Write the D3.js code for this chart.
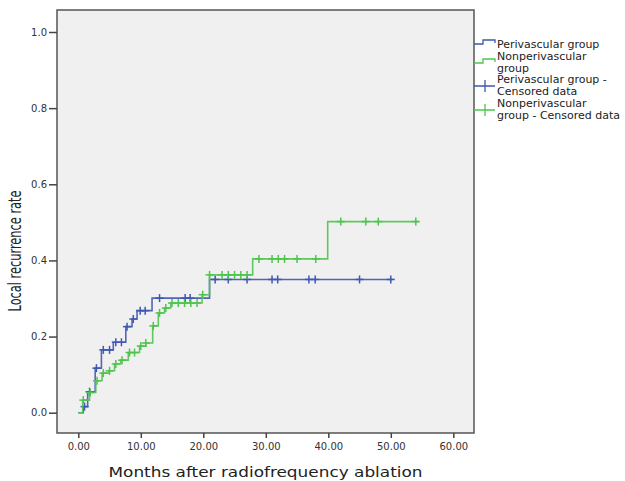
<!DOCTYPE html>
<html>
<head>
<meta charset="utf-8">
<script src="https://cdn.jsdelivr.net/npm/d3@7"></script>
<style>
  body { margin: 0; background: #fff; }
  text { font-family: "DejaVu Sans", Verdana, sans-serif; }
</style>
</head>
<body>
<div id="chart"></div>
<script>
// step points: time (months) and cumulative recurrence rate after that time
var periTime = [0, 0.8, 1.5, 2.7, 3.7, 5.6, 7.6, 8.6, 9.4, 11.8, 21.0, 50.3];
var periRate = [0, 0.016, 0.055, 0.117, 0.165, 0.185, 0.226, 0.246, 0.268, 0.301, 0.35, 0.35];
var periCensor = [1.0, 1.8, 2.9, 4.0, 5.0, 6.0, 6.9, 7.8, 8.8, 9.9, 10.7, 13.0, 17.1, 17.9,
  21.9, 24.0, 27.0, 31.0, 31.9, 36.9, 37.9, 45.0, 50.0];

var nonTime = [0, 0.7, 1.8, 2.8, 3.8, 4.9, 5.8, 6.8, 8.0, 9.8, 10.8, 11.9, 12.8, 13.8, 14.8, 19.8, 21.0, 27.9, 39.9, 54.4];
var nonRate = [0, 0.033, 0.053, 0.084, 0.104, 0.11, 0.128, 0.138, 0.158, 0.175, 0.183, 0.228, 0.262, 0.275, 0.288, 0.31, 0.362, 0.404, 0.502, 0.502];
var nonCensor = [0.8, 1.9, 3.0, 4.0, 5.0, 6.0, 7.0, 8.2, 9.0, 10.0, 10.8, 12.0, 13.0, 14.0, 15.0, 16.0, 17.0,
  18.0, 19.0, 19.9, 21.0, 23.0, 24.0, 25.0, 26.0, 27.0, 28.9, 31.0, 32.0, 33.0, 35.0, 38.0, 42.0, 46.0, 48.0, 54.0];

var xTicks = [0, 10, 20, 30, 40, 50, 60];
var yTicks = [0, 0.2, 0.4, 0.6, 0.8, 1.0];

var blue = "#3f57b2", green = "#4fc34f";

var svg = d3.select("#chart").append("svg")
  .attr("width", 625)
  .attr("height", 481);

var box = {left: 57, top: 10, right: 474, bottom: 433};

var x = d3.scaleLinear().domain([0, 60]).range([78.3, 453.3]);
var y = d3.scaleLinear().domain([0, 1]).range([412.7, 32]);

svg.append("rect")
  .attr("x", box.left).attr("y", box.top)
  .attr("width", box.right - box.left).attr("height", box.bottom - box.top)
  .attr("fill", "#f0f0f0")
  .attr("stroke", "#555")
  .attr("stroke-width", 1.5);

// axes
var yAxis = svg.append("g")
  .attr("transform", "translate(" + box.left + ",0)")
  .call(d3.axisLeft(y).tickValues(yTicks).tickFormat(d3.format(".1f")).tickSize(8).tickPadding(2));
var xAxis = svg.append("g")
  .attr("transform", "translate(0," + box.bottom + ")")
  .call(d3.axisBottom(x).tickValues(xTicks).tickFormat(d3.format(".2f")).tickSize(5).tickPadding(5));
[xAxis, yAxis].forEach(function(g){
  g.select(".domain").remove();
  g.selectAll("line").attr("stroke", "#444").attr("stroke-width", 1.5);
  g.selectAll("text").attr("fill", "#333").style("font-size", "10px")
    .style("font-family", "'DejaVu Sans', Verdana, sans-serif");
});

svg.append("text")
  .attr("x", (box.left + box.right) / 2)
  .attr("y", 477)
  .attr("text-anchor", "middle")
  .attr("textLength", 314)
  .attr("lengthAdjust", "spacingAndGlyphs")
  .style("font-size", "14px")
  .attr("fill", "#222")
  .text("Months after radiofrequency ablation");

svg.append("text")
  .attr("transform", "translate(21,251) rotate(-90)")
  .attr("text-anchor", "middle")
  .attr("textLength", 121)
  .attr("lengthAdjust", "spacingAndGlyphs")
  .style("font-size", "17px")
  .attr("fill", "#222")
  .text("Local recurrence rate");

// step curves
var line = d3.line()
  .x(function(d){ return x(d[0]); })
  .y(function(d){ return y(d[1]); })
  .curve(d3.curveStepAfter);

function drawGroup(times, rates, censor, color) {
  var pts = d3.zip(times, rates);
  svg.append("path")
    .attr("d", line(pts))
    .attr("fill", "none")
    .attr("stroke", color)
    .attr("stroke-width", 1.6)
    .attr("stroke-opacity", 0.9);
  var marks = censor.map(function(t){
    var i = d3.bisectRight(times, t) - 1;
    return [t, rates[Math.max(0, i)]];
  });
  var g = svg.append("g").attr("stroke", color).attr("stroke-width", 1.5);
  g.selectAll("line.v").data(marks).enter().append("line")
    .attr("x1", function(d){ return x(d[0]); })
    .attr("x2", function(d){ return x(d[0]); })
    .attr("y1", function(d){ return y(d[1]) - 4; })
    .attr("y2", function(d){ return y(d[1]) + 4; });
  g.selectAll("line.h").data(marks).enter().append("line")
    .attr("x1", function(d){ return x(d[0]) - 4; })
    .attr("x2", function(d){ return x(d[0]) + 4; })
    .attr("y1", function(d){ return y(d[1]); })
    .attr("y2", function(d){ return y(d[1]); });
}

drawGroup(periTime, periRate, periCensor, blue);
drawGroup(nonTime, nonRate, nonCensor, green);

// legend
var legend = [
  {color: blue, type: "step", y: 44, lines: ["Perivascular group"]},
  {color: green, type: "step", y: 63, lines: ["Nonperivascular", "group"]},
  {color: blue, type: "cross", y: 86, lines: ["Perivascular group -", "Censored data"]},
  {color: green, type: "cross", y: 110, lines: ["Nonperivascular", "group - Censored data"]}
];
legend.forEach(function(d){
  if (d.type == "step") {
    svg.append("path")
      .attr("d", "M474," + d.y + "H483V" + (d.y - 4) + "H495V" + (d.y - 1))
      .attr("fill", "none").attr("stroke", d.color).attr("stroke-width", 1.3);
  } else {
    svg.append("path")
      .attr("d", "M474," + d.y + "H495M485," + (d.y - 6) + "V" + (d.y + 6))
      .attr("fill", "none").attr("stroke", d.color).attr("stroke-width", 1.3);
  }
  var y0 = d.lines.length == 1 ? d.y : d.y - 3;
  d.lines.forEach(function(s, i){
    svg.append("text")
      .attr("x", 497)
      .attr("y", y0 + i * 11.5 + (d.lines.length == 1 ? 3.5 : 0))
      .style("font-size", "11px")
      .attr("fill", "#222")
      .text(s);
  });
});
</script>
</body>
</html>
